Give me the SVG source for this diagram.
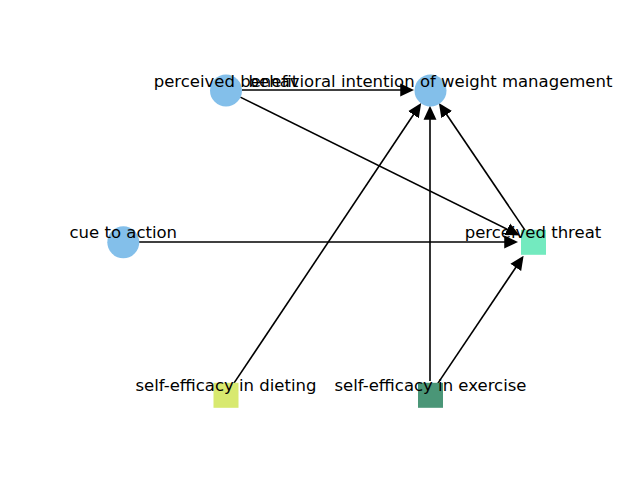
<svg xmlns="http://www.w3.org/2000/svg" width="640" height="480" viewBox="0 0 640 480">
<style>
.e{stroke:#000;stroke-width:1.6;fill:none;marker-end:url(#ah)}
.c{fill:#83BFEA}
text{font-family:"DejaVu Sans",sans-serif;font-size:16.5px;text-anchor:middle;fill:#000}
</style>
<defs>
<marker id="ah" markerUnits="userSpaceOnUse" markerWidth="14" markerHeight="14" viewBox="0 0 13 13" refX="10" refY="6.5" orient="auto">
<path d="M0,0.5 L13,6.5 L0,12.5 z" fill="#000"/>
</marker>
</defs>
<rect width="640" height="480" fill="#fff"/>
<g id="edges">
<line class="e" x1="242" y1="90" x2="411" y2="90"/>
<line class="e" x1="240.3" y1="97.1" x2="516.9" y2="234"/>
<line class="e" x1="139" y1="242" x2="515" y2="242"/>
<line class="e" x1="526.3" y1="232.1" x2="440.7" y2="105.7"/>
<line class="e" x1="233.8" y1="383.4" x2="419.4" y2="105.8"/>
<line class="e" x1="430" y1="381" x2="430" y2="109"/>
<line class="e" x1="437.8" y1="383.4" x2="521.8" y2="258.5"/>
</g>
<g id="perceived_benefit"><circle class="c" cx="226" cy="90.5" r="16"/></g>
<g id="behavioral_intention"><circle class="c" cx="430.5" cy="90.5" r="16"/></g>
<g id="cue_to_action"><circle class="c" cx="123.3" cy="242.3" r="16"/></g>
<g id="perceived_threat"><rect x="521" y="229.8" width="25" height="25" fill="#73EABF"/></g>
<g id="self_efficacy_dieting"><rect x="213.5" y="382.8" width="25" height="25" fill="#D8E96F"/></g>
<g id="self_efficacy_exercise"><rect x="418" y="382.8" width="25" height="25" fill="#4A9677"/></g>
<g id="labels">
<text x="226" y="86.5">perceived benefit</text>
<text x="430.5" y="86.5">behavioral intention of weight management</text>
<text x="123.3" y="238">cue to action</text>
<text x="533" y="238">perceived threat</text>
<text x="226" y="390.7">self-efficacy in dieting</text>
<text x="430.5" y="390.7">self-efficacy in exercise</text>
</g>
</svg>
